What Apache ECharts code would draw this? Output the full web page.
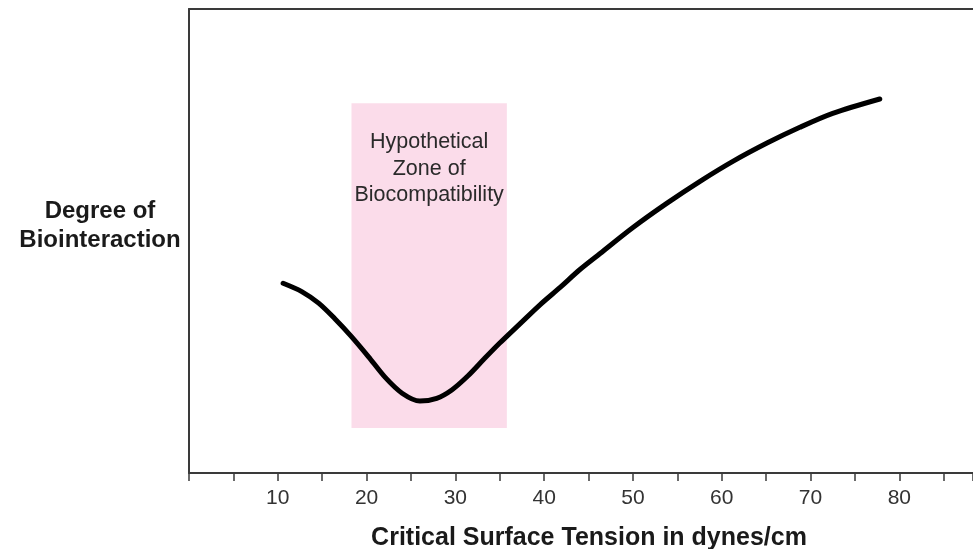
<!DOCTYPE html>
<html><head><meta charset="utf-8">
<script src="https://cdn.jsdelivr.net/npm/echarts@6/dist/echarts.min.js"></script>
<style>html,body{margin:0;padding:0;background:#fff;overflow:hidden}#c{width:973px;height:549px}</style>
</head><body><div id="c"></div>
<script>
const tension = [10.6, 12.7, 14.6, 16.4, 18.3, 20.2, 22.1, 24.0, 26.0, 27.9, 29.6, 31.4, 33.2, 35.0, 37.3, 39.5, 41.8, 44.0, 46.3, 50.0, 53.8, 57.6, 61.3, 65.1, 68.8, 72.5, 77.8];
const biointeraction = [40.9, 39.1, 36.6, 33.3, 29.4, 25.1, 20.6, 17.2, 15.5, 16.1, 17.9, 20.9, 24.5, 28.0, 32.2, 36.2, 40.0, 43.8, 47.3, 52.9, 58.1, 62.9, 67.2, 71.1, 74.5, 77.5, 80.6];
const zoneRange = [18.3, 35.8];
const zoneLevels = [9.7, 79.7];
const zoneLabel = 'Hypothetical\nZone of\nBiocompatibility';
const xTickLabels = ['10', '20', '30', '40', '50', '60', '70', '80'];
const xTitle = 'Critical Surface Tension in dynes/cm';
const yTitle = 'Degree of\nBiointeraction';

const FONT = '"Liberation Sans", Arial, sans-serif';
const AXC = '#3a3a3a';
const chart = echarts.init(document.getElementById('c'), null, {renderer: 'canvas'});
chart.setOption({
  animation: false,
  backgroundColor: '#fff',
  grid: {left: 189, right: 0, top: 9, bottom: 76, containLabel: false, outerBoundsMode: 'none'},
  xAxis: [{
    type: 'value', min: 0, max: 88.3, interval: 5,
    axisLine: {show: true, onZero: false, lineStyle: {color: AXC, width: 2}},
    axisTick: {show: true, length: 8, lineStyle: {color: AXC, width: 1.5}},
    splitLine: {show: false},
    axisLabel: {
      margin: 15, fontFamily: FONT, fontSize: 21, color: '#333',
      showMinLabel: true, showMaxLabel: true,
      formatter: v => xTickLabels.includes(String(v)) ? String(v) : ''
    }
  }, {
    type: 'value', position: 'top', min: 0, max: 88.3,
    axisLine: {show: true, onZero: false, lineStyle: {color: AXC, width: 2}},
    axisTick: {show: false}, axisLabel: {show: false}, splitLine: {show: false}
  }],
  yAxis: {
    type: 'value', min: 0, max: 100,
    axisLine: {show: true, onZero: false, lineStyle: {color: AXC, width: 2}},
    axisTick: {show: false}, axisLabel: {show: false}, splitLine: {show: false}
  },
  graphic: [{
    type: 'text',
    style: {
      text: yTitle, x: 100, y: 226, textAlign: 'center', textVerticalAlign: 'middle',
      font: 'bold 24px ' + FONT, fill: '#1a1a1a', lineHeight: 29
    }
  }, {
    type: 'text',
    style: {
      text: xTitle, x: 589, y: 538, textAlign: 'center', textVerticalAlign: 'middle',
      font: 'bold 25px ' + FONT, fill: '#1a1a1a'
    }
  }],
  series: [{
    type: 'line',
    data: tension.map((t, i) => [t, biointeraction[i]]),
    smooth: 0.3,
    showSymbol: false,
    symbol: 'none',
    z: 5,
    lineStyle: {color: '#000', width: 5, cap: 'round'},
    markArea: {
      silent: true,
      itemStyle: {color: '#fbdcea'},
      label: {
        show: true, position: 'insideTop', distance: 26,
        fontFamily: FONT, fontSize: 21.5, lineHeight: 26.5, color: '#2a2a2a', align: 'center'
      },
      data: [[
        {name: zoneLabel, xAxis: zoneRange[0], yAxis: zoneLevels[1]},
        {xAxis: zoneRange[1], yAxis: zoneLevels[0]}
      ]]
    }
  }]
});
</script></body></html>
